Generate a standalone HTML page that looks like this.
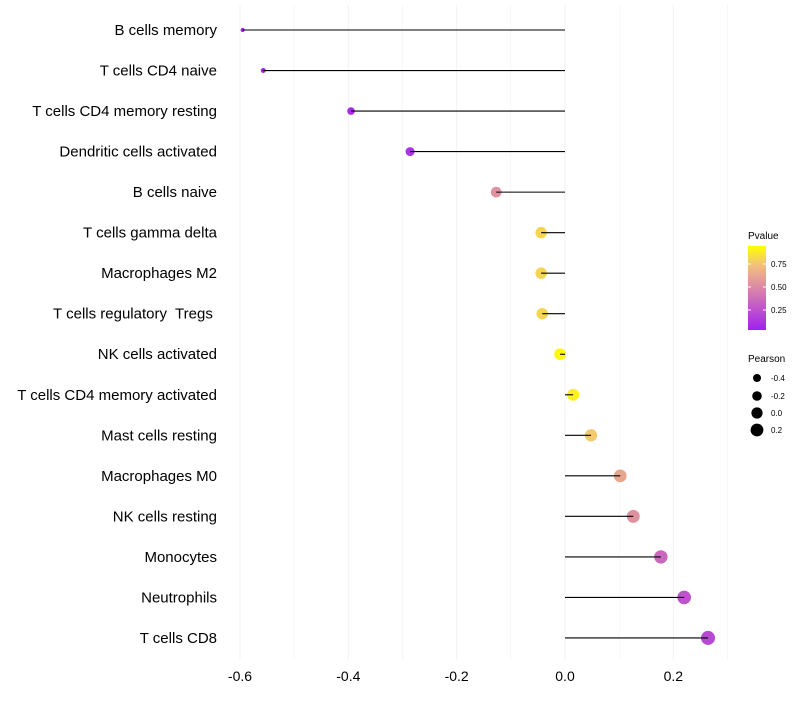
<!DOCTYPE html>
<html><head><meta charset="utf-8"><style>
body{margin:0;background:#fff;font-family:"Liberation Sans",Arial,sans-serif}
text{white-space:pre}
</style></head><body>
<svg id="chart" width="800" height="700" xmlns="http://www.w3.org/2000/svg" font-family="Liberation Sans, Arial, sans-serif">
<defs><linearGradient id="pg" x1="0" y1="1" x2="0" y2="0">
<stop offset="0" stop-color="#A020F0"/><stop offset="0.5" stop-color="#DA88A8"/><stop offset="0.78" stop-color="#F2C27A"/><stop offset="1" stop-color="#FFFF00"/></linearGradient></defs>
<g id="grid"></g>
<g id="points"></g>
<g id="marks"></g>
<g id="ylabels"></g>
<g id="xlabels"></g>
<g>
<text x="748" y="239" font-size="10" fill="#000">Pvalue</text>
<rect x="748" y="246" width="18" height="84" fill="url(#pg)"/>
<line x1="748" y1="264" x2="751" y2="264" stroke="#fff"/><line x1="763" y1="264" x2="766" y2="264" stroke="#fff"/>
<line x1="748" y1="287" x2="751" y2="287" stroke="#fff"/><line x1="763" y1="287" x2="766" y2="287" stroke="#fff"/>
<line x1="748" y1="310" x2="751" y2="310" stroke="#fff"/><line x1="763" y1="310" x2="766" y2="310" stroke="#fff"/>
<text x="771" y="267" font-size="8">0.75</text><text x="771" y="290" font-size="8">0.50</text><text x="771" y="313" font-size="8">0.25</text>
</g>
<g>
<text x="748" y="362" font-size="10">Pearson</text>
<circle cx="757" cy="378" r="4"/><text x="771" y="381" font-size="8">-0.4</text>
<circle cx="757" cy="396" r="4.8"/><text x="771" y="399" font-size="8">-0.2</text>
<circle cx="757" cy="413" r="5.6"/><text x="771" y="416" font-size="8">0.0</text>
<circle cx="757" cy="430" r="6.4"/><text x="771" y="433" font-size="8">0.2</text>
</g>
</svg>
<script>
const categories=["B cells memory","T cells CD4 naive","T cells CD4 memory resting","Dendritic cells activated","B cells naive","T cells gamma delta","Macrophages M2","T cells regulatory  Tregs ","NK cells activated","T cells CD4 memory activated","Mast cells resting","Macrophages M0","NK cells resting","Monocytes","Neutrophils","T cells CD8"];
const pearson=[-0.595,-0.557,-0.395,-0.286,-0.127,-0.044,-0.044,-0.042,-0.009,0.015,0.048,0.102,0.126,0.177,0.22,0.264];
const pvalue=[0.0,0.01,0.05,0.1,0.55,0.85,0.85,0.85,0.98,0.95,0.8,0.65,0.55,0.35,0.25,0.2];
const xticks=[-0.6,-0.4,-0.2,0.0,0.2];
const NS="http://www.w3.org/2000/svg";
const x=v=>565+v*541.7;
const y=i=>30+i*40.53;
function col(p){const st=[[0,[160,32,240]],[0.5,[218,136,168]],[0.78,[242,194,122]],[1,[255,255,0]]];
for(let k=1;k<st.length;k++){if(p<=st[k][0]){const a=st[k-1],b=st[k],t=(p-a[0])/(b[0]-a[0]);return 'rgb('+a[1].map((c,j)=>Math.round(c+(b[1][j]-c)*t)).join(',')+')';}}return 'rgb(255,255,0)';}
function mk(t,attrs,parent){const e=document.createElementNS(NS,t);for(const k in attrs)e.setAttribute(k,attrs[k]);parent.appendChild(e);return e;}
const grid=document.getElementById('grid'),marks=document.getElementById('marks'),pts=document.getElementById('points'),yl=document.getElementById('ylabels'),xl=document.getElementById('xlabels');
for(let v=-0.6;v<=0.39;v+=0.1){const l=mk('line',{x1:x(v),x2:x(v),y1:5,y2:660,stroke:'#f2f2f2','stroke-width':Math.abs(Math.round(v*10))%2==0?1:0.6},grid);

}
xticks.forEach(v=>{const t=mk('text',{x:x(v),y:681,'font-size':14,'text-anchor':'middle',fill:'#000'},xl);t.textContent=v.toFixed(1);

});
categories.forEach((c,i)=>{
const t=mk('text',{x:217,y:y(i)+5,'font-size':15,'text-anchor':'end',fill:'#000'},yl);t.textContent=c;


const r=Math.sqrt(4+(pearson[i]+0.6)/0.86*45);
const ci=mk('circle',{cx:x(pearson[i]),cy:y(i),r:r,fill:col(pvalue[i])},pts);


const l=mk('line',{x1:x(0),x2:x(pearson[i]),y1:y(i),y2:y(i),stroke:'#000','stroke-width':1.1},marks);


});
</script>
</body></html>
